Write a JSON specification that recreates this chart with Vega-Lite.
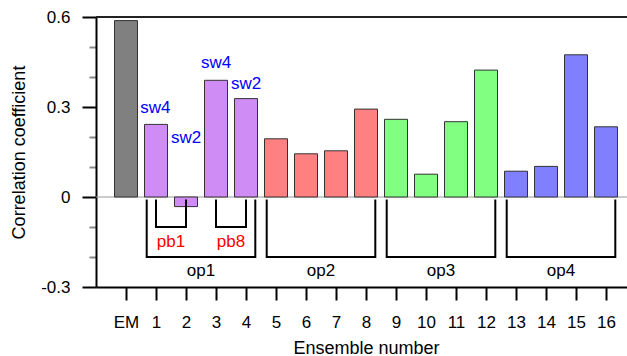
{
  "$schema": "https://vega.github.io/schema/vega-lite/v6.json",
  "autosize": "none",
  "padding": {"left": 96, "top": 17, "right": 0, "bottom": 69},
  "width": 540,
  "height": 270,
  "config": {
    "font": "Liberation Sans",
    "view": {"stroke": null},
    "axis": {"labelFont": "Liberation Sans", "titleFont": "Liberation Sans", "labelColor": "#000", "titleColor": "#000", "titleFontWeight": "normal", "grid": false}
  },
  "datasets": {
    "bars": [
      {"x": 0, "y": 0.588, "g": "EM"},
      {"x": 1, "y": 0.242, "g": "op1"},
      {"x": 2, "y": -0.032, "g": "op1"},
      {"x": 3, "y": 0.389, "g": "op1"},
      {"x": 4, "y": 0.328, "g": "op1"},
      {"x": 5, "y": 0.194, "g": "op2"},
      {"x": 6, "y": 0.144, "g": "op2"},
      {"x": 7, "y": 0.154, "g": "op2"},
      {"x": 8, "y": 0.293, "g": "op2"},
      {"x": 9, "y": 0.259, "g": "op3"},
      {"x": 10, "y": 0.076, "g": "op3"},
      {"x": 11, "y": 0.251, "g": "op3"},
      {"x": 12, "y": 0.423, "g": "op3"},
      {"x": 13, "y": 0.086, "g": "op4"},
      {"x": 14, "y": 0.102, "g": "op4"},
      {"x": 15, "y": 0.474, "g": "op4"},
      {"x": 16, "y": 0.234, "g": "op4"}
    ],
    "zero": [
      {"b": "zero", "o": 1, "x": -1, "y": 0},
      {"b": "zero", "o": 2, "x": 17, "y": 0}
    ],
    "top": [
      {"b": "top", "o": 1, "x": -1, "y": 0.6},
      {"b": "top", "o": 2, "x": 17, "y": 0.6}
    ],
    "brackets": [
      {"b": "pb1", "o": 1, "x": 1, "y": -0.008},
      {"b": "pb1", "o": 2, "x": 1, "y": -0.1},
      {"b": "pb1", "o": 3, "x": 2, "y": -0.1},
      {"b": "pb1", "o": 4, "x": 2, "y": -0.008},
      {"b": "pb8", "o": 1, "x": 3, "y": -0.008},
      {"b": "pb8", "o": 2, "x": 3, "y": -0.1},
      {"b": "pb8", "o": 3, "x": 4, "y": -0.1},
      {"b": "pb8", "o": 4, "x": 4, "y": -0.008},
      {"b": "op1", "o": 1, "x": 0.69, "y": -0.008},
      {"b": "op1", "o": 2, "x": 0.69, "y": -0.2},
      {"b": "op1", "o": 3, "x": 4.31, "y": -0.2},
      {"b": "op1", "o": 4, "x": 4.31, "y": -0.008},
      {"b": "op2", "o": 1, "x": 4.69, "y": -0.008},
      {"b": "op2", "o": 2, "x": 4.69, "y": -0.2},
      {"b": "op2", "o": 3, "x": 8.31, "y": -0.2},
      {"b": "op2", "o": 4, "x": 8.31, "y": -0.008},
      {"b": "op3", "o": 1, "x": 8.69, "y": -0.008},
      {"b": "op3", "o": 2, "x": 8.69, "y": -0.2},
      {"b": "op3", "o": 3, "x": 12.31, "y": -0.2},
      {"b": "op3", "o": 4, "x": 12.31, "y": -0.008},
      {"b": "op4", "o": 1, "x": 12.69, "y": -0.008},
      {"b": "op4", "o": 2, "x": 12.69, "y": -0.2},
      {"b": "op4", "o": 3, "x": 16.31, "y": -0.2},
      {"b": "op4", "o": 4, "x": 16.31, "y": -0.008}
    ],
    "texts": [
      {"x": 0.98, "y": 0.279, "t": "sw4", "c": "#0000ff"},
      {"x": 2.0, "y": 0.179, "t": "sw2", "c": "#0000ff"},
      {"x": 3.0, "y": 0.429, "t": "sw4", "c": "#0000ff"},
      {"x": 4.0, "y": 0.359, "t": "sw2", "c": "#0000ff"},
      {"x": 1.5, "y": -0.165, "t": "pb1", "c": "#ff0000"},
      {"x": 3.5, "y": -0.165, "t": "pb8", "c": "#ff0000"},
      {"x": 2.5, "y": -0.262, "t": "op1", "c": "#000000"},
      {"x": 6.5, "y": -0.262, "t": "op2", "c": "#000000"},
      {"x": 10.5, "y": -0.262, "t": "op3", "c": "#000000"},
      {"x": 14.5, "y": -0.262, "t": "op4", "c": "#000000"}
    ]
  },
  "encoding": {
    "x": {
      "field": "x", "type": "quantitative",
      "scale": {"domain": [-1, 17], "nice": false, "zero": false, "padding": 0},
      "axis": {
        "title": "Ensemble number", "titleFontSize": 18, "titlePadding": 9,
        "values": [0, 1, 2, 3, 4, 5, 6, 7, 8, 9, 10, 11, 12, 13, 14, 15, 16],
        "labelExpr": "datum.value == 0 ? 'EM' : datum.value + ''",
        "labelFontSize": 17, "labelPadding": 14, "tickSize": 13, "tickWidth": 2, "tickColor": "#000",
        "domainColor": "#000", "domainWidth": 2, "labelFlush": false, "labelOverlap": false
      }
    },
    "y": {
      "field": "y", "type": "quantitative",
      "scale": {"domain": [-0.3, 0.6], "nice": false, "zero": false, "padding": 0},
      "axis": {
        "title": "Correlation coefficient", "titleFontSize": 18, "titlePadding": 12,
        "values": [-0.3, -0.2, -0.1, 0, 0.1, 0.2, 0.3, 0.4, 0.5, 0.6],
        "labelExpr": "abs(round(datum.value * 10)) % 3 == 0 ? datum.value + '' : ''",
        "labelFontSize": 17, "labelPadding": 12,
        "tickSize": {"condition": {"test": "abs(round(datum.value * 10)) % 3 == 0", "value": 14}, "value": 7},
        "tickColor": {"condition": {"test": "abs(round(datum.value * 10)) % 3 == 0", "value": "#000"}, "value": "#888"},
        "tickWidth": 2,
        "domainColor": "#000", "domainWidth": 2, "labelFlush": false, "labelOverlap": false
      }
    }
  },
  "layer": [
    {
      "data": {"name": "zero"},
      "mark": {"type": "line", "color": "#999999", "strokeWidth": 1},
      "encoding": {"detail": {"field": "b"}, "order": {"field": "o"}}
    },
    {
      "data": {"name": "bars"},
      "mark": {"type": "bar", "width": 23, "stroke": "#333333", "strokeWidth": 1},
      "encoding": {
        "color": {
          "field": "g", "type": "nominal",
          "scale": {"domain": ["EM", "op1", "op2", "op3", "op4"], "range": ["#808080", "#d08cf5", "#ff8080", "#80ff80", "#8080ff"]},
          "legend": null
        }
      }
    },
    {
      "data": {"name": "top"},
      "mark": {"type": "line", "color": "#222222", "strokeWidth": 2},
      "encoding": {"detail": {"field": "b"}, "order": {"field": "o"}}
    },
    {
      "data": {"name": "brackets"},
      "mark": {"type": "line", "color": "#000", "strokeWidth": 2, "strokeJoin": "miter"},
      "encoding": {"detail": {"field": "b"}, "order": {"field": "o"}}
    },
    {
      "data": {"name": "texts"},
      "mark": {"type": "text", "fontSize": 17, "align": "center", "baseline": "alphabetic"},
      "encoding": {
        "text": {"field": "t"},
        "color": {"field": "c", "type": "nominal", "scale": null}
      }
    }
  ]
}
